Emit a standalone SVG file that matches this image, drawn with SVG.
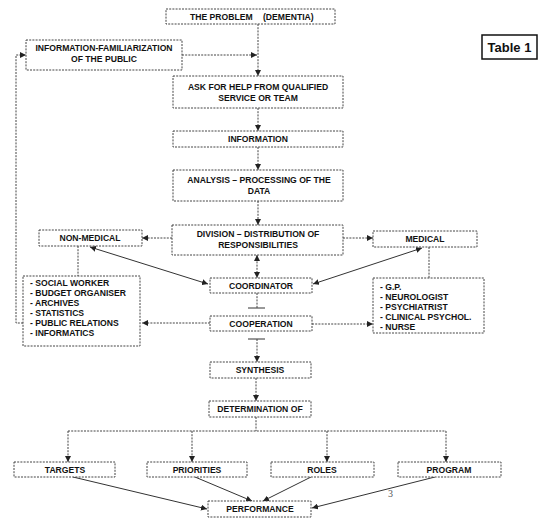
<svg xmlns="http://www.w3.org/2000/svg" width="551" height="527" viewBox="0 0 551 527">
<defs>
<marker id="ah" viewBox="0 0 10 10" refX="10" refY="5" markerWidth="6" markerHeight="6" markerUnits="userSpaceOnUse" orient="auto-start-reverse">
<path d="M0,0 L10,5 L0,10 z" fill="#222"/>
</marker>
<style>
.b{fill:#fff;stroke:#444;stroke-width:1;stroke-dasharray:2 1.2}
.t{font-family:"Liberation Sans",Arial,sans-serif;font-weight:bold;font-size:8.6px;fill:#111;text-anchor:middle}
.l{font-family:"Liberation Sans",Arial,sans-serif;font-weight:bold;font-size:8.6px;fill:#111}
.c{fill:none;stroke:#444;stroke-width:1;stroke-dasharray:2 1.2}
.a{marker-end:url(#ah)}
.d{marker-start:url(#ah);marker-end:url(#ah)}
.s{fill:none;stroke:#333;stroke-width:1}
</style>
</defs>
<rect width="551" height="527" fill="#fff"/>

<g id="connectors">
<path class="c a" d="M258,24 V76"/>
<path class="c a" d="M182,55 H257"/>
<path class="c a" d="M23,323 H16 V55 H26"/>
<path class="c a" d="M258,108 V131"/>
<path class="c a" d="M258,147 V170"/>
<path class="c a" d="M258,201 V225"/>
<path class="c a" d="M172,238 H142"/>
<path class="c a" d="M343,238 H373"/>
<path class="c d" d="M257,255 V278"/>
<path class="c" d="M78,246 V276"/>
<path class="c" d="M429,247 V278"/>
<path class="s d" d="M90,247 L208,284"/>
<path class="s d" d="M422,248 L313,284"/>
<path class="c" d="M257,293 V308"/>
<path class="s" d="M248,308 H265"/>
<path class="c a" d="M210,323 H142"/>
<path class="c a" d="M312,324 H373"/>
<path class="s" d="M248,339 H265"/>
<path class="c a" d="M257,339 V362"/>
<path class="c a" d="M256,378 V401"/>
<path class="c" d="M256,417 V431 M68,431 H446"/>
<path class="c a" d="M68,431 V462"/>
<path class="c a" d="M192,431 V462"/>
<path class="c a" d="M327,431 V462"/>
<path class="c a" d="M446,431 V462"/>
<path class="s a" d="M73,477 L207,509"/>
<path class="s a" d="M195,477 L252,501"/>
<path class="s a" d="M311,477 L263,501"/>
<path class="s a" d="M435,477 L312,508"/>
</g>

<g id="problem">
<rect class="b" x="166" y="9" width="169" height="15"/>
<text class="l" x="190" y="20">THE PROBLEM</text>
<text class="l" x="263" y="20">(DEMENTIA)</text>
</g>
<g id="info-public">
<rect class="b" x="26" y="40" width="156" height="30"/>
<text class="t" x="104" y="51">INFORMATION-FAMILIARIZATION</text>
<text class="t" x="104" y="62">OF THE PUBLIC</text>
</g>
<g id="table1">
<rect x="482" y="35" width="55" height="24" fill="#fff" stroke="#111" stroke-width="1.5"/>
<text x="509.5" y="52" font-family="'Liberation Sans',Arial,sans-serif" font-weight="bold" font-size="13" text-anchor="middle" fill="#111">Table 1</text>
</g>
<g id="ask">
<rect class="b" x="173" y="76" width="170" height="32"/>
<text class="t" x="258" y="90">ASK FOR HELP FROM QUALIFIED</text>
<text class="t" x="258" y="101">SERVICE OR TEAM</text>
</g>
<g id="information">
<rect class="b" x="173" y="131" width="170" height="16"/>
<text class="t" x="258" y="142">INFORMATION</text>
</g>
<g id="analysis">
<rect class="b" x="173" y="170" width="170" height="31"/>
<text class="t" x="259" y="183">ANALYSIS – PROCESSING OF THE</text>
<text class="t" x="259" y="194">DATA</text>
</g>
<g id="division">
<rect class="b" x="172" y="225" width="171" height="30"/>
<text class="t" x="258" y="237">DIVISION – DISTRIBUTION OF</text>
<text class="t" x="258" y="248">RESPONSIBILITIES</text>
</g>
<g id="non-medical">
<rect class="b" x="39" y="230" width="103" height="16"/>
<text class="t" x="90" y="241">NON-MEDICAL</text>
</g>
<g id="medical">
<rect class="b" x="373" y="231" width="104" height="16"/>
<text class="t" x="425" y="242">MEDICAL</text>
</g>
<g id="non-medical-list">
<rect class="b" x="23" y="276" width="117" height="70"/>
<text class="l" x="30" y="286">- SOCIAL WORKER</text>
<text class="l" x="30" y="296">- BUDGET ORGANISER</text>
<text class="l" x="30" y="306">- ARCHIVES</text>
<text class="l" x="30" y="316">- STATISTICS</text>
<text class="l" x="30" y="326">- PUBLIC RELATIONS</text>
<text class="l" x="30" y="336">- INFORMATICS</text>
</g>
<g id="medical-list">
<rect class="b" x="373" y="278" width="111" height="55"/>
<text class="l" x="380" y="290">- G.P.</text>
<text class="l" x="380" y="299.5">- NEUROLOGIST</text>
<text class="l" x="380" y="309.5">- PSYCHIATRIST</text>
<text class="l" x="380" y="319.5">- CLINICAL PSYCHOL.</text>
<text class="l" x="380" y="329.5">- NURSE</text>
</g>
<g id="coordinator">
<rect class="b" x="210" y="278" width="102" height="15"/>
<text class="t" x="261" y="289">COORDINATOR</text>
</g>
<g id="cooperation">
<rect class="b" x="210" y="316" width="102" height="15"/>
<text class="t" x="261" y="327">COOPERATION</text>
</g>
<g id="synthesis">
<rect class="b" x="210" y="362" width="101" height="16"/>
<text class="t" x="260" y="373">SYNTHESIS</text>
</g>
<g id="determination">
<rect class="b" x="209" y="401" width="102" height="16"/>
<text class="t" x="260" y="412">DETERMINATION OF</text>
</g>
<g id="targets">
<rect class="b" x="14" y="462" width="101" height="15"/>
<text class="t" x="65" y="473">TARGETS</text>
</g>
<g id="priorities">
<rect class="b" x="147" y="462" width="100" height="15"/>
<text class="t" x="197" y="473">PRIORITIES</text>
</g>
<g id="roles">
<rect class="b" x="271" y="462" width="103" height="15"/>
<text class="t" x="322" y="473">ROLES</text>
</g>
<g id="program">
<rect class="b" x="398" y="462" width="103" height="15"/>
<text class="t" x="449" y="473">PROGRAM</text>
</g>
<g id="performance">
<rect class="b" x="208" y="501" width="103" height="16"/>
<text class="t" x="260" y="512">PERFORMANCE</text>
</g>
<text x="388" y="497" font-family="'Liberation Serif',serif" font-size="10" fill="#555">3</text>
</svg>
